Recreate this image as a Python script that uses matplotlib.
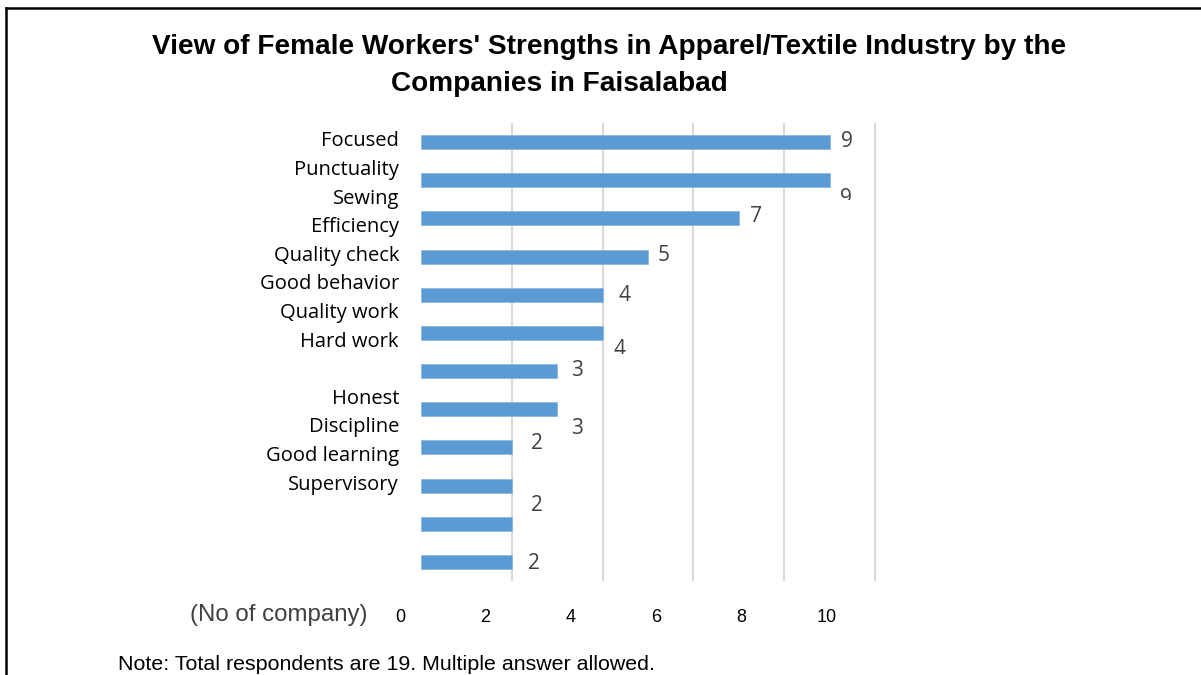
import matplotlib
matplotlib.use("Agg")
import matplotlib.pyplot as plt
from matplotlib.lines import Line2D
from matplotlib.transforms import Bbox

# data
categories = ["Focused", "Punctuality", "Sewing", "Efficiency", "Quality check",
              "Good behavior", "Quality work", "Hard work", "", "Honest",
              "Discipline", "Good learning", "Supervisory"]
values = [9, 9, 7, 5, 4, 4, 3, 3, 2, 2, 2, 2]
tick_values = [0, 2, 4, 6, 8, 10]
title_1 = "View of Female Workers' Strengths in Apparel/Textile Industry by the"
title_2 = "Companies in Faisalabad"
axis_note = "(No of company)"
note = "Note: Total respondents are 19. Multiple answer allowed."

# label placement quirks of the original (pixels)
lab_dx = [17, 16, 17, 16, 22, 17, 20, 20, 25, 25, 0, 22]
lab_dy = [-1, 18, -2, -1, 1, 17, -1, 19, -4, 20, 0, 2]
lab_show = [True] * 10 + [False, True]
lab_clip = {1: 20, 5: 21}

W, H = 1201, 675
fig = plt.figure(figsize=(W / 100, H / 100), dpi=100)
fig.patch.set_facecolor("white")


def box(x0, y0, x1, y1):
    # pixel box (top-left origin) -> figure rect
    return [x0 / W, 1 - y1 / H, (x1 - x0) / W, (y1 - y0) / H]


# main bars
ax = fig.add_axes(box(421, 123, 876, 581))
ypos = list(range(len(values)))
ax.barh(ypos, values, height=0.37, color="#5B9BD5", edgecolor="#8DB6E2",
        linewidth=0.6, zorder=3)
ax.set_xlim(0, 10.02)
ax.set_ylim(len(values) - 0.5, -0.5)
ax.set_xticks(tick_values[1:])
ax.set_yticks([])
ax.xaxis.grid(True, color="#D9D9D9", linewidth=1.5)
ax.set_axisbelow(True)
ax.tick_params(axis="x", length=0, labelbottom=False)
for s in ax.spines.values():
    s.set_visible(False)

fig.canvas.draw()
for i, v in enumerate(values):
    if not lab_show[i]:
        continue
    t = ax.annotate(str(v), (v, i), xytext=(lab_dx[i], -lab_dy[i]),
                    textcoords="offset pixels", ha="center", va="center",
                    fontsize=15, color="#404040", family="Open Sans", zorder=4)
    if i in lab_clip:
        _, ycut = ax.transData.transform((0, i))
        ycut -= lab_clip[i]
        t.set_clip_box(Bbox.from_extents(0, ycut, W, H))
        t.set_clip_on(True)

# category labels (own spacing, as in the original)
axc = fig.add_axes(box(399, 124.7, 405, 496.3))
axc.set_ylim(len(categories) - 0.5, -0.5)
axc.set_yticks(range(len(categories)))
axc.set_yticklabels(categories, family="Open Sans", fontsize=14.5, color="black")
axc.set_xticks([])
axc.tick_params(axis="y", length=0, pad=0)
axc.patch.set_visible(False)
for s in axc.spines.values():
    s.set_visible(False)

# bottom tick numbers (shifted, as in the original)
axt = fig.add_axes(box(400, 600, 827, 605))
axt.set_xlim(0, 10)
axt.set_xticks(tick_values)
axt.set_xticklabels([str(t) for t in tick_values],
                    family=["Liberation Sans Narrow", "Liberation Sans"],
                    fontsize=13, color="black")
axt.set_yticks([])
axt.tick_params(axis="x", length=0, pad=3)
axt.patch.set_visible(False)
for s in axt.spines.values():
    s.set_visible(False)

fig.text(367 / W, 1 - 615 / H, axis_note, ha="right", va="center",
         family="Liberation Sans", fontsize=17.3, color="#404040")
fig.text(118 / W, 1 - 665 / H, note, ha="left", va="center",
         family="Liberation Sans", fontsize=15.4, color="black")

fig.text(609 / W, 1 - 47 / H, title_1, ha="center", va="center",
         family="Liberation Sans", fontsize=20.2, fontweight="bold")
fig.text(559.5 / W, 1 - 84 / H, title_2, ha="center", va="center",
         family="Liberation Sans", fontsize=20.2, fontweight="bold")

# frame: left and top edges only
fig.add_artist(Line2D([6 / W, 6 / W], [0, 1 - 8 / H], color="black", linewidth=1.8))
fig.add_artist(Line2D([6 / W, 1], [1 - 8 / H, 1 - 8 / H], color="black", linewidth=1.8))

fig.savefig("out.png", dpi=100)
